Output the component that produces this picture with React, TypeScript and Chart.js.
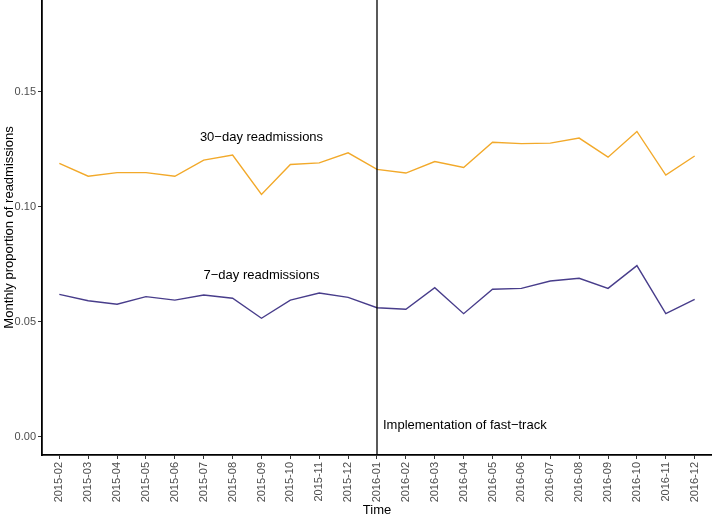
import React, { useEffect, useRef } from "react";
import { Chart, registerables } from "chart.js";

Chart.register(...registerables);

const months = [
  "2015-02", "2015-03", "2015-04", "2015-05", "2015-06", "2015-07", "2015-08",
  "2015-09", "2015-10", "2015-11", "2015-12", "2016-01", "2016-02", "2016-03",
  "2016-04", "2016-05", "2016-06", "2016-07", "2016-08", "2016-09", "2016-10",
  "2016-11", "2016-12",
];

const readmit30 = [
  0.1189, 0.1133, 0.1149, 0.1149, 0.1133, 0.1203, 0.1225, 0.1054, 0.1184,
  0.1191, 0.1235, 0.1163, 0.1147, 0.1197, 0.1171, 0.1281, 0.1275, 0.1277,
  0.1299, 0.1216, 0.1328, 0.1138, 0.1221,
];

const readmit7 = [
  0.0619, 0.0591, 0.0576, 0.0609, 0.0594, 0.0616, 0.0602, 0.0515, 0.0594,
  0.0625, 0.0606, 0.0561, 0.0554, 0.0648, 0.0535, 0.0641, 0.0645, 0.0677,
  0.0689, 0.0645, 0.0744, 0.0535, 0.0597,
];

const yTicks = [0, 0.05, 0.1, 0.15];

const seriesLabels = ["30\u2212day readmissions", "7\u2212day readmissions"];
const seriesLabelAt = [
  { month: "2015-09", value: 0.13 },
  { month: "2015-09", value: 0.07 },
];
const interventionMonth = "2016-01";
const interventionLabel = "Implementation of fast\u2212track";
const interventionLabelValue = 0.005;

const FONT = "'Liberation Sans', Arial, Helvetica, sans-serif";

const annotationPlugin = {
  id: "annotations",
  afterDatasetsDraw(chart: any) {
    const { ctx, chartArea } = chart;
    const xs = chart.scales.x;
    const ys = chart.scales.y;
    ctx.save();
    const vx = xs.getPixelForValue(months.indexOf(interventionMonth));
    ctx.strokeStyle = "#000000";
    ctx.lineWidth = 1.3;
    ctx.beginPath();
    ctx.moveTo(vx, chartArea.top);
    ctx.lineTo(vx, chartArea.bottom);
    ctx.stroke();

    ctx.fillStyle = "#000000";
    ctx.font = `13px ${FONT}`;
    ctx.textBaseline = "middle";
    ctx.textAlign = "center";
    seriesLabels.forEach((t, i) => {
      const p = seriesLabelAt[i];
      ctx.fillText(
        t,
        xs.getPixelForValue(months.indexOf(p.month)),
        ys.getPixelForValue(p.value)
      );
    });
    ctx.textAlign = "left";
    ctx.fillText(interventionLabel, vx + 6, ys.getPixelForValue(interventionLabelValue));
    ctx.restore();
  },
};

export default function App() {
  const ref = useRef<HTMLCanvasElement | null>(null);
  useEffect(() => {
    if (!ref.current) return;
    const chart = new Chart(ref.current, {
      type: "line",
      data: {
        datasets: [
          {
            label: "30-day",
            data: readmit30.map((v, i) => ({ x: i, y: v })),
            borderColor: "#F2A92A",
            borderWidth: 1.4,
            pointRadius: 0,
            tension: 0,
          },
          {
            label: "7-day",
            data: readmit7.map((v, i) => ({ x: i, y: v })),
            borderColor: "#483D8B",
            borderWidth: 1.4,
            pointRadius: 0,
            tension: 0,
          },
        ],
      },
      options: {
        animation: false,
        responsive: false,
        devicePixelRatio: 1,
        layout: { padding: { top: 0, right: 0, left: 0, bottom: 0 } },
        plugins: {
          legend: { display: false },
          tooltip: { enabled: false },
        },
        scales: {
          x: {
            type: "linear",
            min: -0.6,
            max: months.length - 1 + 0.6,
            afterBuildTicks: (scale: any) => {
              scale.ticks = months.map((_, i) => ({ value: i }));
            },
            afterFit: (scale: any) => {
              scale.height = 64;
              scale.paddingLeft = 0;
              scale.paddingRight = 0;
            },
            ticks: {
              autoSkip: false,
              minRotation: 90,
              maxRotation: 90,
              padding: 3,
              color: "#4d4d4d",
              font: { family: FONT, size: 11 },
              callback: (v: any) => months[Number(v)] ?? "",
            },
            grid: {
              drawOnChartArea: false,
              drawTicks: true,
              tickLength: 4,
              color: "#333333",
            },
            border: { display: true, color: "#000000", width: 1.8 },
            title: {
              display: true,
              text: "Time",
              color: "#000000",
              font: { family: FONT, size: 13 },
              padding: { top: 0, bottom: 1 },
            },
          },
          y: {
            type: "linear",
            min: -0.008,
            max: 0.19,
            afterBuildTicks: (scale: any) => {
              scale.ticks = yTicks.map((v) => ({ value: v }));
            },
            afterFit: (scale: any) => {
              scale.width = 42;
              scale.paddingTop = 0;
              scale.paddingBottom = 0;
            },
            ticks: {
              padding: 2,
              color: "#4d4d4d",
              font: { family: FONT, size: 11 },
              callback: (v: any) => Number(v).toFixed(2),
            },
            grid: {
              drawOnChartArea: false,
              drawTicks: true,
              tickLength: 4,
              color: "#333333",
            },
            border: { display: true, color: "#000000", width: 1.8 },
            title: {
              display: true,
              text: "Monthly proportion of readmissions",
              color: "#000000",
              font: { family: FONT, size: 13 },
              padding: { top: 2, bottom: 0 },
            },
          },
        },
      },
      plugins: [annotationPlugin],
    } as any);
    return () => chart.destroy();
  }, []);

  return (
    <div style={{ position: "absolute", left: 0, top: 0, width: 712, height: 519, background: "#ffffff" }}>
      <canvas ref={ref} width={712} height={519} style={{ display: "block" }} />
    </div>
  );
}
